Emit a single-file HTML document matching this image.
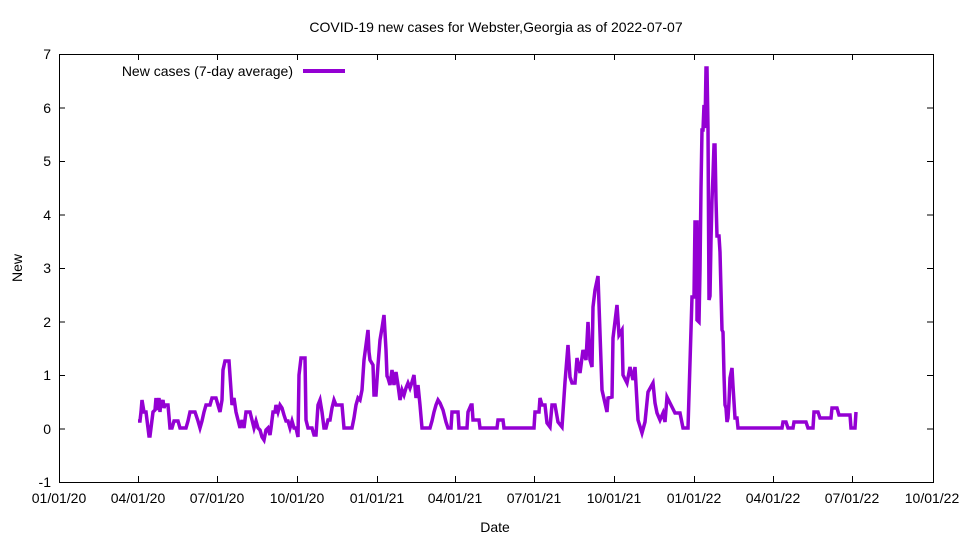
<!DOCTYPE html>
<html><head><meta charset="utf-8"><style>body{margin:0;background:#fff}svg{display:block}text{font-family:"Liberation Sans",sans-serif;font-size:14px;fill:#000}</style></head>
<body>
<svg width="960" height="540" viewBox="0 0 960 540">
<rect x="59.5" y="54.5" width="874" height="428" fill="none" stroke="#000" stroke-width="1"/>
<g stroke="#000" stroke-width="1">
<path d="M59 54.5h6M933 54.5h-6M59 108h6M933 108h-6M59 161.5h6M933 161.5h-6M59 215h6M933 215h-6M59 268.5h6M933 268.5h-6M59 322h6M933 322h-6M59 375.5h6M933 375.5h-6M59 429h6M933 429h-6M59 482.5h6M933 482.5h-6"/>
<path d="M138.5 482v-6M138.5 54v6M217.5 482v-6M217.5 54v6M297.5 482v-6M297.5 54v6M377.5 482v-6M377.5 54v6M455.5 482v-6M455.5 54v6M534.5 482v-6M534.5 54v6M614.5 482v-6M614.5 54v6M694.5 482v-6M694.5 54v6M773.5 482v-6M773.5 54v6M852.5 482v-6M852.5 54v6"/>
</g>
<g text-anchor="end">
<text x="51" y="59">7</text><text x="51" y="113">6</text><text x="51" y="166">5</text><text x="51" y="220">4</text><text x="51" y="273">3</text><text x="51" y="327">2</text><text x="51" y="380">1</text><text x="51" y="434">0</text><text x="51" y="487">-1</text>
</g>
<g text-anchor="middle">
<text x="59" y="503">01/01/20</text><text x="138" y="503">04/01/20</text><text x="217" y="503">07/01/20</text><text x="297" y="503">10/01/20</text><text x="377" y="503">01/01/21</text><text x="455" y="503">04/01/21</text><text x="534" y="503">07/01/21</text><text x="614" y="503">10/01/21</text><text x="694" y="503">01/01/22</text><text x="773" y="503">04/01/22</text><text x="852" y="503">07/01/22</text><text x="932" y="503">10/01/22</text>
<text x="495" y="532">Date</text>
<text x="496" y="32">COVID-19 new cases for Webster,Georgia as of 2022-07-07</text>
<text transform="translate(22,268) rotate(-90)">New</text>
</g>
<text x="293" y="76" text-anchor="end">New cases (7-day average)</text>
<line x1="303" y1="71" x2="345" y2="71" stroke="#9400D3" stroke-width="4"/>
<polyline fill="none" stroke="#9400D3" stroke-width="3.5" points="138,421 140,421 141,412 142,400 144,412 146,412 148,428 149,436 150,436 152,420 153,412 155,410 156,398 157,410 158,405 159,398 160,412 161,400 162,405 163,400 164,408 165,405 168,405 170,428 172,428 174,421 178,421 180,428 186,428 188,421 190,412 195,412 198,421 200,428 202,421 204,412 206,405 210,405 212,398 216,398 218,405 220,412 222,400 223,370 225,361 229,361 231,390 232,405 234,398 236,412 238,420 240,428 242,420 244,428 246,412 250,412 252,420 254,428 256,421 258,428 260,430 262,437 264,440 266,430 268,428 270,435 271,428 273,412 275,412 276,405 278,412 280,405 282,408 284,415 286,421 288,421 290,428 292,421 294,428 296,428 298,437 299,375 301,358 305,358 306,420 308,428 312,428 314,435 316,435 318,405 320,400 322,412 324,428 326,428 328,420 330,420 332,408 334,400 336,405 338,405 342,405 344,428 352,428 354,418 356,405 358,398 360,400 362,390 364,360 366,345 368,330 369,352 370,360 373,365 374,395 376,395 378,365 380,340 382,328 384,315 386,350 387,376 388,378 390,385 392,370 394,385 396,372 398,385 400,400 402,390 404,395 406,388 408,383 410,388 412,382 414,375 416,398 418,385 420,405 422,428 430,428 432,421 434,412 436,405 438,400 440,403 443,410 446,422 448,428 451,428 452,412 458,412 459,428 467,428 468,412 471,405 472,405 473,420 479,420 480,428 497,428 498,420 503,420 504,428 534,428 535,412 539,412 540,398 542,405 545,405 547,423 550,427 552,405 555,405 558,422 562,427 565,382 568,345 570,377 572,383 575,383 577,358 580,373 583,350 586,360 588,322 590,360 592,367 593,307 595,290 598,276 602,390 607,412 608,398 612,397 613,338 617,305 619,335 622,330 623,375 627,383 630,367 633,380 635,367 638,420 642,433 645,422 648,392 653,383 655,403 657,413 660,420 663,413 665,422 667,397 672,407 675,413 680,413 683,428 688,428 692,297 694,297 695,222 697,222 697,320 699,322 700,270 701,188 702,130 703,130 704,105 705,128 706,68 707,68 708,128 709,300 710,296 711,240 712,200 713,175 714,145 715,145 716,200 717,236 719,236 720,252 722,330 723,332 724,375 725,405 726,408 727,422 728,418 729,402 730,378 732,368 733,386 735,418 737,418 738,428 782,428 783,422 786,422 788,428 793,428 794,422 806,422 808,428 813,428 814,412 818,412 820,418 831,418 832,408 837,408 839,415 850,415 851,428 855,428 856,412"/>
</svg>
</body></html>
